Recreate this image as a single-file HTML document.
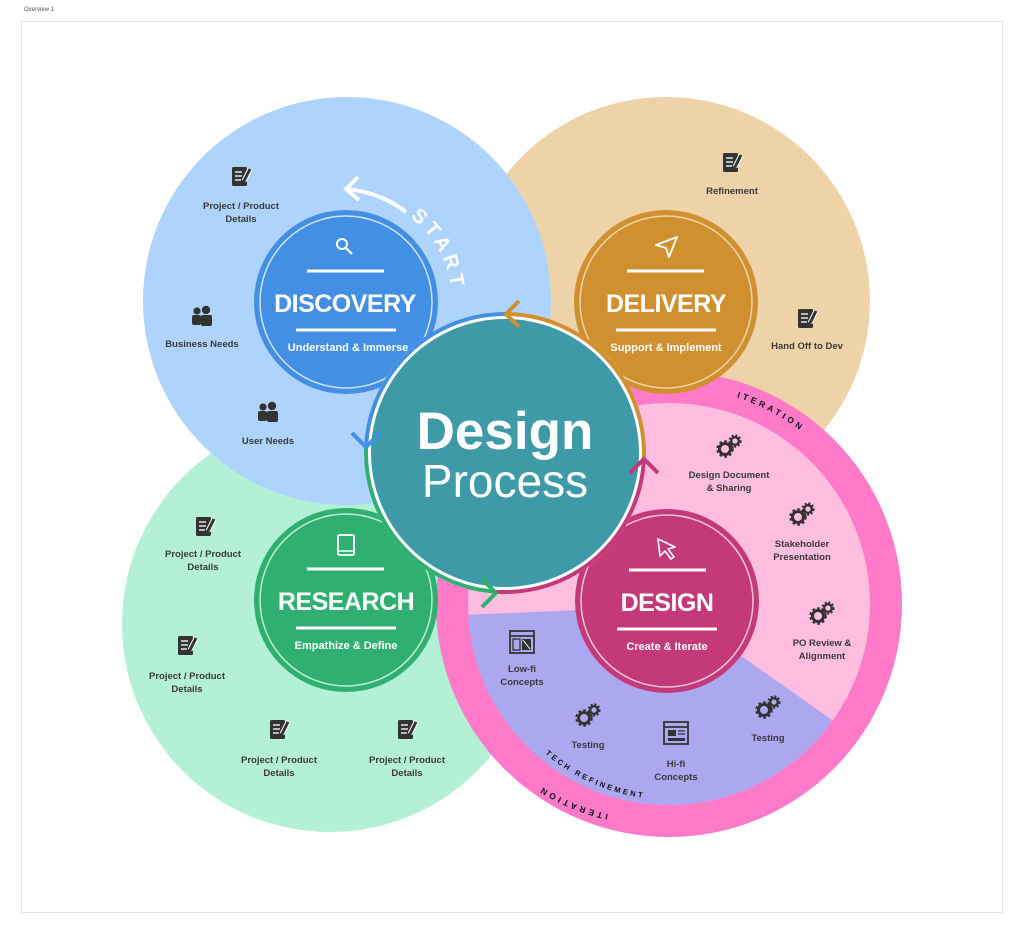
<!DOCTYPE html>
<html><head><meta charset="utf-8"><style>
html,body{margin:0;padding:0;background:#fff;width:1024px;height:935px;overflow:hidden}
svg{display:block;font-family:"Liberation Sans",sans-serif}
.l{font-size:9.5px;font-weight:bold;fill:#3a3a3a;text-anchor:middle}
.t{font-size:25px;font-weight:bold;fill:#fff;text-anchor:middle;letter-spacing:-0.5px}
.s{font-size:11px;font-weight:bold;fill:#fff;text-anchor:middle}
</style></head><body>
<svg width="1024" height="935" viewBox="0 0 1024 935">
<defs>
<g id="gear"><circle cx="-4" cy="3" r="5.5" fill="none" stroke="#333" stroke-width="3"/><circle cx="-4" cy="3" r="7.5" fill="none" stroke="#333" stroke-width="2.5" stroke-dasharray="2.6 2.3"/><circle cx="6" cy="-5" r="3.8" fill="none" stroke="#333" stroke-width="2.4"/><circle cx="6" cy="-5" r="5.6" fill="none" stroke="#333" stroke-width="2" stroke-dasharray="2 1.8"/></g>
<g id="doc"><rect x="-9" y="-10" width="15" height="19" rx="1.5" fill="#333"/><line x1="-6" y1="-5" x2="1" y2="-5" stroke="#fff" stroke-width="1.3"/><line x1="-6" y1="-1" x2="1" y2="-1" stroke="#fff" stroke-width="1.3"/><line x1="-6" y1="3" x2="0" y2="3" stroke="#fff" stroke-width="1.3"/><line x1="3" y1="4" x2="9" y2="-8" stroke="#fff" stroke-width="5"/><line x1="3" y1="4" x2="9" y2="-8" stroke="#333" stroke-width="3"/></g>
<g id="ppl"><circle cx="-5" cy="-6" r="3.6" fill="#333"/><circle cx="4" cy="-7" r="4.2" fill="#333"/><rect x="-10" y="-2" width="9" height="10" rx="2" fill="#333"/><rect x="-1" y="-2" width="11" height="11" rx="2" fill="#333"/></g>
<g id="win"><rect x="-12" y="-11" width="24" height="22" fill="none" stroke="#333" stroke-width="1.8"/><line x1="-12" y1="-6" x2="12" y2="-6" stroke="#333" stroke-width="1.8"/><rect x="-9" y="-3" width="7" height="11" fill="none" stroke="#333" stroke-width="1.3"/><rect x="0" y="-3" width="9" height="11" fill="#333"/><line x1="1" y1="-2" x2="8" y2="7" stroke="#fff" stroke-width="1"/></g>
<g id="hifi"><rect x="-12" y="-11" width="24" height="22" fill="none" stroke="#333" stroke-width="1.8"/><line x1="-12" y1="-6" x2="12" y2="-6" stroke="#333" stroke-width="1.8"/><rect x="-8" y="-3" width="8" height="6" fill="#333"/><line x1="2" y1="-2" x2="9" y2="-2" stroke="#333" stroke-width="1.3"/><line x1="2" y1="1" x2="9" y2="1" stroke="#333" stroke-width="1.3"/><rect x="-8" y="5" width="17" height="3" fill="#333"/></g>
<clipPath id="inner"><circle cx="669" cy="604" r="201"/></clipPath>
<path id="startP" d="M410,217 A106,106 0 0 1 452,305"/>
<path id="itTop" d="M602,397 A218,218 0 0 1 850,483"/>
<path id="itBot" d="M630,818 A222,222 0 0 1 470,715"/>
<path id="techP" d="M520,728 A195,195 0 0 0 690,799"/>
</defs>
<text x="24" y="11" font-size="6" fill="#555">Overview 1</text>
<rect x="21.5" y="21.5" width="981" height="891" fill="#fff" stroke="#e4e4e4"/>

<circle cx="666" cy="301" r="204" fill="#efd3a8"/>
<circle cx="330" cy="624" r="208" fill="#b3f0d5"/>
<circle cx="669" cy="604" r="233" fill="#ff7ac8"/>
<circle cx="669" cy="604" r="201" fill="#ffbde0"/>
<polygon clip-path="url(#inner)" points="440,616 580,610 740,655 835,722 900,900 440,900" fill="#aca8f0"/>
<circle cx="347" cy="301" r="204" fill="#aed3fc"/>

<!-- START -->
<text font-size="20" font-weight="bold" fill="#fff" letter-spacing="4.5"><textPath href="#startP">START</textPath></text>
<path d="M406,212 Q380,192 346,189" fill="none" stroke="#fff" stroke-width="4"/>
<polyline points="358,177 346,189 359,200" fill="none" stroke="#fff" stroke-width="4"/>

<!-- curved ring text -->
<text font-size="8.5" font-weight="bold" fill="#111" letter-spacing="3.2"><textPath href="#itTop" startOffset="137">ITERATION</textPath></text>
<text font-size="8.5" font-weight="bold" fill="#111" letter-spacing="3.2"><textPath href="#itBot" startOffset="22">ITERATION</textPath></text>
<text font-size="7.5" font-weight="bold" fill="#111" letter-spacing="2.6"><textPath href="#techP" startOffset="36">TECH REFINEMENT</textPath></text>

<!-- sub circles -->
<g>
<circle cx="346" cy="302" r="92" fill="#428fe4"/><circle cx="346" cy="302" r="86" fill="none" stroke="#cfe3fb" stroke-width="1.5"/>
<circle cx="342" cy="244" r="5" fill="none" stroke="#fff" stroke-width="2"/><line x1="346" y1="248" x2="352" y2="254" stroke="#fff" stroke-width="2.2"/>
<line x1="307" y1="271" x2="384" y2="271" stroke="#fff" stroke-width="3"/>
<text class="t" x="345" y="312">DISCOVERY</text>
<line x1="296" y1="330" x2="396" y2="330" stroke="#fff" stroke-width="3"/>
<text class="s" x="348" y="351">Understand &amp; Immerse</text>
</g>
<g>
<circle cx="666" cy="302" r="92" fill="#d0902f"/><circle cx="666" cy="302" r="86" fill="none" stroke="#f0d4aa" stroke-width="1.5"/>
<path d="M656,245 L677,237 L669,257 L666,248 Z" fill="none" stroke="#fff" stroke-width="1.8" stroke-linejoin="round"/>
<line x1="627" y1="271" x2="704" y2="271" stroke="#fff" stroke-width="3"/>
<text class="t" x="666" y="312">DELIVERY</text>
<line x1="616" y1="330" x2="716" y2="330" stroke="#fff" stroke-width="3"/>
<text class="s" x="666" y="351">Support &amp; Implement</text>
</g>
<g>
<circle cx="346" cy="600" r="92" fill="#2fb070"/><circle cx="346" cy="600" r="86" fill="none" stroke="#c0ecd5" stroke-width="1.5"/>
<rect x="338" y="535" width="16" height="20" rx="1.5" fill="none" stroke="#fff" stroke-width="1.8"/><line x1="338" y1="551" x2="354" y2="551" stroke="#fff" stroke-width="1.5"/>
<line x1="307" y1="569" x2="384" y2="569" stroke="#fff" stroke-width="3"/>
<text class="t" x="346" y="610">RESEARCH</text>
<line x1="296" y1="628" x2="396" y2="628" stroke="#fff" stroke-width="3"/>
<text class="s" x="346" y="649">Empathize &amp; Define</text>
</g>
<g>
<circle cx="667" cy="601" r="92" fill="#c4397a"/><circle cx="667" cy="601" r="86" fill="none" stroke="#f3c5da" stroke-width="1.5"/>
<path d="M658,539 L675,547 L668,549 L674,557 L671,559 L665,551 L660,556 Z" fill="none" stroke="#fff" stroke-width="1.6" stroke-linejoin="round"/>
<line x1="629" y1="570" x2="706" y2="570" stroke="#fff" stroke-width="3"/>
<text class="t" x="667" y="611">DESIGN</text>
<line x1="617" y1="629" x2="717" y2="629" stroke="#fff" stroke-width="3"/>
<text class="s" x="667" y="650">Create &amp; Iterate</text>
</g>

<!-- center -->
<circle cx="505" cy="453" r="141" fill="#fff"/>
<path d="M505,314 A139,139 0 0 0 366.2,445.7" fill="none" stroke="#428fe4" stroke-width="4"/>
<path d="M366.2,445.7 A139,139 0 0 0 495.3,591.7" fill="none" stroke="#2fb070" stroke-width="4"/>
<path d="M495.3,591.7 A139,139 0 0 0 643.8,460.3" fill="none" stroke="#c4397a" stroke-width="4"/>
<path d="M643.8,460.3 A139,139 0 0 0 505,314" fill="none" stroke="#d0902f" stroke-width="4"/>
<circle cx="505" cy="453" r="134" fill="#3f9aa8"/>
<polyline points="519,301 506,314 519,327" fill="none" stroke="#d0902f" stroke-width="4"/>
<polyline points="352,433 366,447 380,433" fill="none" stroke="#428fe4" stroke-width="4"/>
<polyline points="482,579 496,593 482,607" fill="none" stroke="#2fb070" stroke-width="4"/>
<polyline points="630,473 644,459 658,473" fill="none" stroke="#c4397a" stroke-width="4"/>
<text x="505" y="449" font-size="53" font-weight="bold" fill="#fff" text-anchor="middle">Design</text>
<text x="505" y="497" font-size="46" fill="#fff" text-anchor="middle">Process</text>

<!-- blue items -->
<use href="#doc" x="241" y="177"/><text class="l" x="241" y="209">Project / Product</text><text class="l" x="241" y="222">Details</text>
<use href="#ppl" x="202" y="317"/><text class="l" x="202" y="347">Business Needs</text>
<use href="#ppl" x="268" y="413"/><text class="l" x="268" y="444">User Needs</text>
<!-- tan -->
<use href="#doc" x="732" y="163"/><text class="l" x="732" y="194">Refinement</text>
<use href="#doc" x="807" y="319"/><text class="l" x="807" y="349">Hand Off to Dev</text>
<!-- green -->
<use href="#doc" x="205" y="527"/><text class="l" x="203" y="557">Project / Product</text><text class="l" x="203" y="570">Details</text>
<use href="#doc" x="187" y="646"/><text class="l" x="187" y="679">Project / Product</text><text class="l" x="187" y="692">Details</text>
<use href="#doc" x="279" y="730"/><text class="l" x="279" y="763">Project / Product</text><text class="l" x="279" y="776">Details</text>
<use href="#doc" x="407" y="730"/><text class="l" x="407" y="763">Project / Product</text><text class="l" x="407" y="776">Details</text>
<!-- pink -->
<use href="#gear" x="729" y="446"/><text class="l" x="729" y="478">Design Document</text><text class="l" x="729" y="491">&amp; Sharing</text>
<use href="#gear" x="802" y="514"/><text class="l" x="802" y="547">Stakeholder</text><text class="l" x="802" y="560">Presentation</text>
<use href="#gear" x="822" y="613"/><text class="l" x="822" y="646">PO Review &amp;</text><text class="l" x="822" y="659">Alignment</text>
<!-- purple -->
<use href="#win" x="522" y="642"/><text class="l" x="522" y="672">Low-fi</text><text class="l" x="522" y="685">Concepts</text>
<use href="#gear" x="588" y="715"/><text class="l" x="588" y="748">Testing</text>
<use href="#hifi" x="676" y="733"/><text class="l" x="676" y="767">Hi-fi</text><text class="l" x="676" y="780">Concepts</text>
<use href="#gear" x="768" y="707"/><text class="l" x="768" y="741">Testing</text>
</svg>
</body></html>
